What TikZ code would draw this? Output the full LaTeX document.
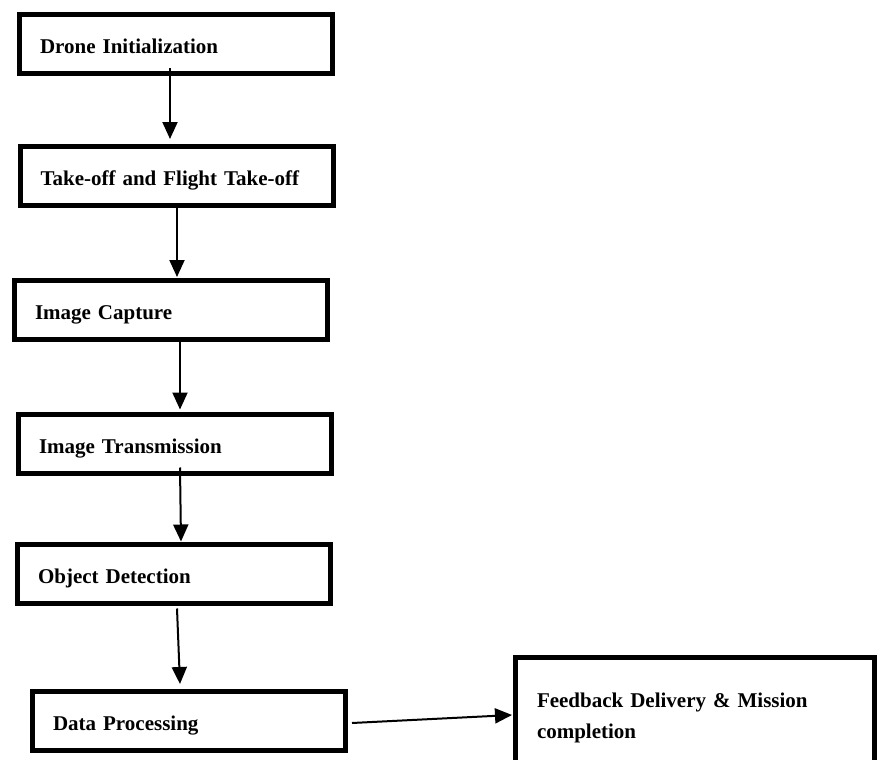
\documentclass[tikz,border=0pt]{standalone}
\usepackage{fontspec}
\setmainfont{Liberation Serif}
\usepackage{tikz}
\usetikzlibrary{arrows.meta}
\tikzset{
	boxbase/.style={draw, rectangle, line width=5pt, outer sep=0pt, align=left, font=\bfseries\fontsize{21}{31}\selectfont},
	stagebox/.style={boxbase, minimum width=313pt, minimum height=59pt, text width=272pt, inner xsep=20.5pt, text height=19pt, text depth=0pt},
	flow/.style={line width=2pt, -{Triangle[length=17pt,width=15pt]}}
}

\begin{document}
\begin{tikzpicture}[x=1pt,y=-1pt]
	\def\fbw{359pt}
	\def\fbsep{21.5pt}

	\useasboundingbox (0,0) rectangle (879,760);
	\clip (0,0) rectangle (879,760);

	\node[stagebox] (init) at (176,44.5) {Drone Initialization};
	\node[stagebox] (takeoff) at (176.5,175.5) {Take-off and Flight Take-off};
	\node[stagebox] (capture) at (171,310) {Image Capture};
	\node[stagebox] (trans) at (175,443.5) {Image Transmission};
	\node[stagebox] (detect) at (174,573.5) {Object Detection};
	\node[stagebox] (proc) at (189,721) {Data Processing};

	\node[boxbase, anchor=north west, minimum width=\fbw, text width=\fbw-2*\fbsep, inner xsep=\fbsep, inner ysep=35pt] (fb) at (515.5,657.5) {Feedback Delivery \& Mission\\completion};

	\draw[flow] ([xshift=-6pt,yshift=5.5pt]init.south) -- ([xshift=-6.5pt,yshift=7pt]takeoff.north);
	\draw[flow] ([xshift=0.5pt]takeoff.south) -- ([xshift=6pt,yshift=3.5pt]capture.north);
	\draw[flow] ([xshift=9pt]capture.south) -- ([xshift=5pt,yshift=4.5pt]trans.north);
	\draw[flow] ([xshift=5pt,yshift=5.5pt]trans.south) -- ([xshift=7pt,yshift=2.5pt]detect.north);
	\draw[flow] ([xshift=3pt,yshift=-5.5pt]detect.south) -- ([xshift=-9pt,yshift=7.5pt]proc.north);
	\draw[flow] ([xshift=6.5pt,yshift=-2pt]proc.east) -- ([xshift=-3.5pt,yshift=-57.5pt]fb.north west);
\end{tikzpicture}
\end{document}
